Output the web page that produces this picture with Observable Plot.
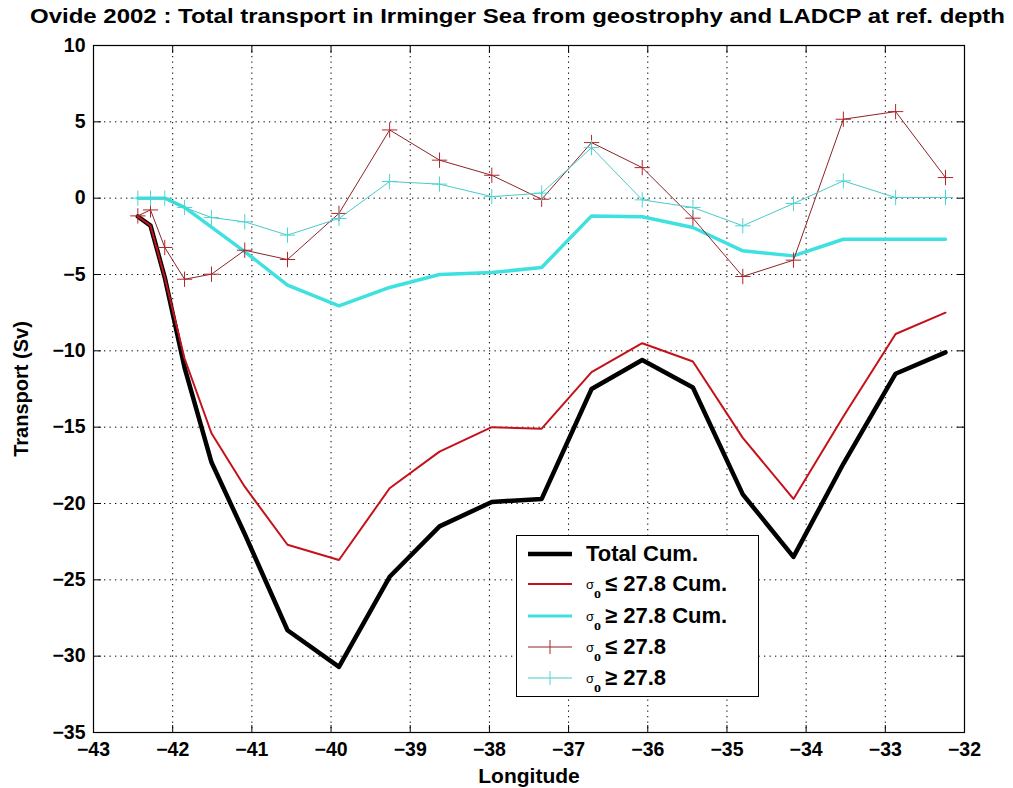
<!DOCTYPE html>
<html>
<head>
<meta charset="utf-8">
<script src="https://cdn.jsdelivr.net/npm/d3@7"></script>
<script src="https://cdn.jsdelivr.net/npm/@observablehq/plot@0.6"></script>
<style>
  html, body { margin: 0; padding: 0; background: #fff; }
  #wrap { position: relative; width: 1013px; height: 788px; font-family: "Liberation Sans", Arial, Helvetica, sans-serif; }
  #title { display: block; }
  #legend { position: absolute; left: 516px; top: 535px; width: 243px; height: 162px; border: 1.5px solid #000; background: #fff; box-sizing: border-box; }
  .row { position: absolute; left: 0; height: 30px; display: flex; align-items: center; }
  .row svg { margin-left: 11px; }
  .lab { margin-left: 14px; font-family: "Liberation Sans", Arial, sans-serif; font-weight: bold; font-size: 22px; color: #000; white-space: nowrap; }
  .sig { font-family: "Liberation Sans", Arial, sans-serif; font-weight: normal; font-size: 13px; position: relative; top: -2px; }
  .sub { font-family: "Liberation Serif", serif; font-weight: bold; font-size: 14px; position: relative; top: 7px; margin-right: 4px; }
</style>
</head>
<body>
<div id="wrap">
  <svg id="title" width="1013" height="30">
    <text x="30" y="23" textLength="975" lengthAdjust="spacingAndGlyphs" font-family="Liberation Sans, Arial" font-weight="bold" font-size="21">Ovide 2002 : Total transport in Irminger Sea from geostrophy and LADCP at ref. depth</text>
  </svg>
  <div id="chart"></div>
  <div id="legend">
    <div class="row" style="top:3px"><svg width="44" height="10"><line x1="0" x2="44" y1="5" y2="5" stroke="#000" stroke-width="4.5"/></svg><span class="lab">Total Cum.</span></div>
    <div class="row" style="top:33px"><svg width="44" height="10"><line x1="0" x2="44" y1="5" y2="5" stroke="#c4121b" stroke-width="2"/></svg><span class="lab"><span class="sig">σ</span><span class="sub">o</span>≤ 27.8 Cum.</span></div>
    <div class="row" style="top:65px"><svg width="44" height="10"><line x1="0" x2="44" y1="5" y2="5" stroke="#3fe0e0" stroke-width="3"/></svg><span class="lab"><span class="sig">σ</span><span class="sub">o</span>≥ 27.8 Cum.</span></div>
    <div class="row" style="top:96px"><svg width="44" height="16"><line x1="0" x2="44" y1="8" y2="8" stroke="#8e2326" stroke-width="1"/><line x1="22" x2="22" y1="1" y2="15" stroke="#a8282c" stroke-width="1"/></svg><span class="lab"><span class="sig">σ</span><span class="sub">o</span>≤ 27.8</span></div>
    <div class="row" style="top:127px"><svg width="44" height="16"><line x1="0" x2="44" y1="8" y2="8" stroke="#4cc9c9" stroke-width="1"/><line x1="22" x2="22" y1="1" y2="15" stroke="#4cd6d6" stroke-width="1"/></svg><span class="lab"><span class="sig">σ</span><span class="sub">o</span>≥ 27.8</span></div>
  </div>
</div>
<script>
// Station longitudes
const lon = [-42.44, -42.28, -42.10, -41.85, -41.51, -41.09, -40.55, -39.90, -39.26, -38.63,
             -37.97, -37.34, -36.71, -36.07, -35.43, -34.80, -34.16, -33.53, -32.87, -32.24];
// Total cumulative transport (Sv)
const totalCum = [-1.2, -1.8, -5.2, -11.1, -17.3, -22.0, -28.3, -30.7, -24.8, -21.5,
                  -19.9, -19.7, -12.5, -10.6, -12.4, -19.4, -23.5, -17.4, -11.5, -10.1];
// sigma0 <= 27.8 cumulative
const lightCum = [-1.2, -1.8, -5.2, -10.5, -15.4, -18.9, -22.7, -23.7, -19.0, -16.6,
                  -15.0, -15.1, -11.4, -9.5, -10.7, -15.7, -19.7, -14.3, -8.9, -7.5];
// sigma0 >= 27.8 cumulative
const denseCum = [0, 0, 0, -0.6, -1.9, -3.5, -5.7, -7.05, -5.85, -5.0,
                  -4.87, -4.54, -1.16, -1.22, -1.92, -3.45, -3.78, -2.69, -2.69, -2.69];
// sigma0 <= 27.8 per station
const light = [-1.16, -0.77, -3.23, -5.31, -4.98, -3.41, -4.02, -1.0, 4.47, 2.49,
               1.5, -0.07, 3.64, 2.0, -1.31, -5.13, -4.06, 5.17, 5.67, 1.35];
// sigma0 >= 27.8 per station
const dense = [0, 0, 0, -0.61, -1.27, -1.55, -2.42, -1.33, 1.09, 0.92,
               0.1, 0.33, 3.31, -0.11, -0.61, -1.81, -0.35, 1.13, 0.04, 0.04];

const xTicks = d3.range(-43, -31, 1);
const yTicks = d3.range(-35, 11, 5);

const rows = lon.map((x, i) => ({x, total: totalCum[i], lc: lightCum[i], dc: denseCum[i], l: light[i], d: dense[i]}));

const font = "'Liberation Sans', Arial, Helvetica, sans-serif";
const grid = {stroke: "#000", strokeOpacity: 1, strokeDasharray: "1.3,4.2", strokeWidth: 1};

const chart = Plot.plot({
  width: 1013,
  height: 758,
  marginTop: 15,
  marginBottom: 56,
  marginLeft: 93,
  marginRight: 49,
  style: {fontFamily: font, background: "#fff", color: "#000"},
  x: {domain: [-43, -32], ticks: xTicks},
  y: {domain: [-35, 10], ticks: yTicks},
  marks: [
    Plot.gridX(xTicks, grid),
    Plot.gridY(yTicks, grid),
    Plot.frame({stroke: "#000", strokeWidth: 1.2}),
    Plot.axisX(xTicks, {anchor: "bottom", tickSize: 0, tickPadding: 10, fontSize: 19.5, fontWeight: "bold", label: null}),
    Plot.axisX(xTicks, {anchor: "bottom", tickSize: 0, text: null, fontSize: 21, fontWeight: "bold", label: "Longitude", labelAnchor: "center", labelArrow: "none", labelOffset: 50}),
    Plot.axisX(xTicks, {anchor: "bottom", tickSize: -7, text: null, label: null, stroke: "#000"}),
    Plot.axisX(xTicks, {anchor: "top", tickSize: -7, text: null, label: null, stroke: "#000"}),
    Plot.axisY(yTicks, {anchor: "left", tickSize: 0, tickPadding: 8, fontSize: 19.5, fontWeight: "bold", label: null}),
    Plot.axisY(yTicks, {anchor: "left", tickSize: 0, text: null, fontSize: 20, fontWeight: "bold", label: "Transport (Sv)", labelAnchor: "center", labelArrow: "none", labelOffset: 80}),
    Plot.axisY(yTicks, {anchor: "left", tickSize: -8, text: null, label: null, stroke: "#000"}),
    Plot.axisY(yTicks, {anchor: "right", tickSize: -8, text: null, label: null, stroke: "#000"}),
    Plot.line(rows, {x: "x", y: "total", stroke: "#000", strokeWidth: 4.5}),
    Plot.line(rows, {x: "x", y: "lc", stroke: "#c4121b", strokeWidth: 2}),
    Plot.line(rows, {x: "x", y: "dc", stroke: "#3fe0e0", strokeWidth: 3.5}),
    Plot.line(rows, {x: "x", y: "l", stroke: "#8e2326", strokeWidth: 1}),
    Plot.dot(rows, {x: "x", y: "l", symbol: "plus", r: 5, stroke: "#b0242a", strokeWidth: 1}),
    Plot.line(rows, {x: "x", y: "d", stroke: "#4cc9c9", strokeWidth: 1}),
    Plot.dot(rows, {x: "x", y: "d", symbol: "plus", r: 5, stroke: "#4cd6d6", strokeWidth: 1})
  ]
});
document.getElementById("chart").appendChild(chart);
</script>
</body>
</html>
